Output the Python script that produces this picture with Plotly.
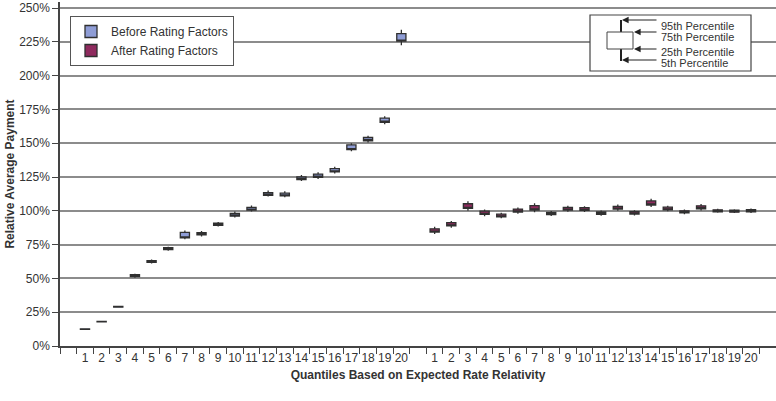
import plotly.graph_objects as go

# ---------------- data (percent) ----------------
quantiles = [str(i) for i in range(1, 21)]

before_p5  = [12.2, 17.7, 28.5, 50.5, 61.0, 70.5, 79.0, 81.0, 88.3, 95.0, 99.5, 110.5, 110.0, 122.0, 123.5, 127.5, 144.0, 150.5, 164.0, 222.5]
before_q1  = [12.3, 17.8, 28.7, 51.3, 61.8, 71.3, 80.0, 82.2, 89.2, 96.0, 100.5, 111.5, 111.0, 123.0, 124.8, 128.8, 145.3, 151.8, 165.5, 225.5]
before_q3  = [12.7, 18.2, 29.3, 52.7, 63.2, 72.7, 84.0, 83.8, 90.8, 98.0, 102.5, 113.5, 113.0, 125.0, 127.2, 131.2, 148.7, 154.2, 168.5, 231.0]
before_p95 = [12.8, 18.3, 29.5, 53.5, 64.0, 73.5, 85.5, 85.0, 91.7, 99.5, 104.0, 115.0, 114.5, 126.5, 128.5, 132.5, 150.0, 155.5, 170.0, 234.0]

after_p5  = [82.8, 87.5, 100.0, 96.0, 94.5, 97.8, 99.0, 96.2, 99.3, 99.2, 96.3, 100.0, 96.6, 102.8, 99.6, 97.5, 100.3, 98.5, 98.3, 98.3]
after_q1  = [84.3, 88.8, 101.8, 97.3, 95.5, 99.1, 100.6, 97.2, 100.5, 100.3, 97.3, 101.3, 97.6, 104.3, 100.7, 98.4, 101.5, 99.3, 99.0, 99.2]
after_q3  = [86.7, 91.2, 105.2, 99.7, 97.5, 101.3, 103.8, 98.8, 102.5, 102.3, 99.1, 103.3, 99.4, 107.3, 102.7, 100.0, 103.7, 100.7, 100.4, 100.8]
after_p95 = [88.2, 92.5, 107.0, 101.0, 98.5, 102.5, 105.5, 99.8, 103.7, 103.4, 100.2, 104.7, 100.4, 109.0, 103.8, 100.9, 105.0, 101.5, 101.2, 101.7]

y_tick_step = 25   # percent
y_top = 250        # percent

# category slots: gap, before 1-20, gap, after 1-20, gap
before_cats = ["B" + q for q in quantiles]
after_cats = ["A" + q for q in quantiles]
all_cats = ["g0"] + before_cats + ["g1"] + after_cats + ["g2"]
all_text = [""] + quantiles + [""] + quantiles + [""]

pct = lambda a: [v / 100 for v in a]

FONT = "Liberation Sans, Arial, Helvetica, sans-serif"
fig = go.Figure()

fig.add_trace(go.Box(
    name="Before Rating Factors", x=before_cats,
    q1=pct(before_q1), median=pct(before_q1), q3=pct(before_q3),
    lowerfence=pct(before_p5), upperfence=pct(before_p95),
    fillcolor="#8f9dd6", line=dict(color="#303030", width=1.3),
    width=0.55, whiskerwidth=0, hoverinfo="skip",
))
fig.add_trace(go.Box(
    name="After Rating Factors", x=after_cats,
    q1=pct(after_q1), median=pct(after_q1), q3=pct(after_q3),
    lowerfence=pct(after_p5), upperfence=pct(after_p95),
    fillcolor="#8f2a5e", line=dict(color="#303030", width=1.3),
    width=0.55, whiskerwidth=0, hoverinfo="skip",
))

# percentile key (top right); pixel helpers for plot area 60..776 x, 346..TOP y
TOP = 2
PLOT_H = 401 - TOP - 55
TOP_GRID_PX = 8           # pixel row of the 250% gridline

def px_x(px):
    return (px - 60) / 716

def px_y(py):
    return (346 - py) / PLOT_H

shapes = [
    dict(type="rect", xref="paper", yref="paper", x0=px_x(590), x1=px_x(751), y0=px_y(71), y1=px_y(15),
         line=dict(color="#444", width=1.2), fillcolor="white", layer="above"),
    dict(type="line", xref="paper", yref="paper", x0=px_x(621), x1=px_x(621), y0=px_y(32), y1=px_y(20),
         line=dict(color="#222", width=2), layer="above"),
    dict(type="line", xref="paper", yref="paper", x0=px_x(621), x1=px_x(621), y0=px_y(61), y1=px_y(49),
         line=dict(color="#222", width=2), layer="above"),
    dict(type="rect", xref="paper", yref="paper", x0=px_x(607), x1=px_x(633), y0=px_y(49), y1=px_y(32),
         line=dict(color="#444", width=1), fillcolor="white", layer="above"),
]

annotations = []
key_items = [
    ("95th Percentile", 622, 20, 25.5),
    ("75th Percentile", 634, 32, 37),
    ("25th Percentile", 634, 49, 52),
    ("5th Percentile", 622, 60, 63),
]
for label, tx, ly, ty in key_items:
    annotations.append(dict(
        xref="paper", yref="paper", x=px_x(tx), y=px_y(ly), text="",
        showarrow=True, axref="pixel", ayref="pixel", ax=658 - tx, ay=0,
        arrowhead=2, arrowsize=1.1, arrowwidth=1.2, arrowcolor="#222", standoff=0,
    ))
    annotations.append(dict(
        xref="paper", yref="paper", x=px_x(659), y=px_y(ty), text=label,
        showarrow=False, xanchor="left", yanchor="middle",
        font=dict(family=FONT, size=11, color="#333"),
    ))

y_max = (y_top / 100) * PLOT_H / (346 - TOP_GRID_PX)

fig.update_layout(
    width=776, height=401,
    margin=dict(l=60, r=0, t=TOP, b=55, autoexpand=False),
    paper_bgcolor="white", plot_bgcolor="white",
    font=dict(family=FONT, size=12, color="#333"),
    boxmode="overlay",
    showlegend=True,
    legend=dict(
        x=px_x(70), y=px_y(16), xanchor="left", yanchor="top",
        bgcolor="white", bordercolor="#555", borderwidth=1,
        font=dict(family=FONT, size=12, color="#333"),
        itemwidth=30, tracegroupgap=2,
    ),
    xaxis=dict(
        type="category", categoryorder="array", categoryarray=all_cats,
        range=[-0.5, len(all_cats) - 0.5], automargin=False,
        tickmode="array", tickvals=all_cats, ticktext=all_text, tickangle=0,
        tickson="boundaries", ticks="outside", ticklen=6, tickcolor="#444",
        showgrid=False, showline=True, linecolor="#444", linewidth=1.5,
        tickfont=dict(family=FONT, size=12, color="#333"),
        title=dict(text="<b>Quantiles Based on Expected Rate Relativity</b>",
                   font=dict(family=FONT, size=12, color="#333"), standoff=6),
    ),
    yaxis=dict(
        range=[0, y_max], tickmode="linear", tick0=0, dtick=y_tick_step / 100,
        tickformat=".0%", ticks="outside", ticklen=6, tickcolor="#444",
        ticklabeloverflow="allow", automargin=False,
        showgrid=True, gridcolor="#8c8c8c", gridwidth=1.5,
        showline=True, linecolor="#444", linewidth=1.5, zeroline=False,
        tickfont=dict(family=FONT, size=12, color="#333"),
        title=dict(text="<b>Relative Average Payment</b>",
                   font=dict(family=FONT, size=12, color="#333"), standoff=2),
    ),
    shapes=shapes,
    annotations=annotations,
)

fig.write_html("out.html")
